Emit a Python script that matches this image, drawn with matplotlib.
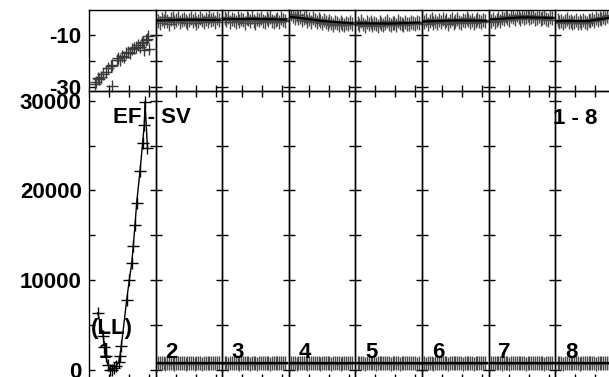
import matplotlib
matplotlib.use("Agg")
import matplotlib.pyplot as plt

plt.rcParams['font.family'] = ['Liberation Sans', 'DejaVu Sans']

# ---------------- data ----------------
panel_labels = ["1", "2", "3", "4", "5", "6", "7", "8"]
title_left = "EF - SV"
title_right = "1 - 8"
panel1_note = "(LL)"

top_ticks = [-30, -20, -10]
top_ticklabels = ["-30", "", "-10"]
bottom_ticks = [0, 5000, 10000, 15000, 20000, 25000, 30000]
bottom_ticklabels = ["0", "", "10000", "", "20000", "", "30000"]
x_ticks = [3, 6, 9]

# panel 1, top row (scatter only)
p1_top_x = [0.9, 1.0, 1.3, 1.5, 1.8, 2.1, 2.5, 2.9, 3.3, 3.4, 3.5, 4.2, 4.4, 4.6, 5.0, 5.3,
            5.6, 5.9, 6.1, 6.4, 6.7, 7.0, 7.3, 7.6, 7.9, 8.1, 8.3, 8.5, 8.7, 8.9, 9.0]
p1_top_y = [-28.8, -28.2, -26.6, -27.0, -26.3, -25.0, -24.2, -22.6, -22.0, -29.6, -21.5, -19.8,
            -19.0, -19.5, -18.2, -18.6, -17.0, -16.5, -16.9, -15.4, -15.0, -14.6, -14.0, -14.5,
            -13.2, -12.8, -15.8, -12.0, -11.6, -10.4, -15.2]

# panel 1, bottom row (points joined by a line)
p1_bot_x = [1.31, 2.15, 2.30, 2.51, 2.85, 3.15, 3.45, 3.75, 4.05, 4.45, 4.65, 4.85, 5.66,
            6.05, 6.41, 6.65, 6.91, 7.16, 7.66, 8.05, 8.30, 8.41, 8.78]
p1_bot_y = [6350, 3740, 2550, 1510, 500, -60, -80, 150, 350, 800, 1500, 2600, 7770,
            10000, 11870, 13800, 16150, 18640, 22180, 25280, 27320, 29920, 24750]

# panels 2-8: observation positions shared by the panels
obs_x = [0.35, 0.6, 0.9, 1.2, 1.45, 1.7, 2.0, 2.3, 2.55, 2.8, 3.1, 3.4, 3.65, 3.9, 4.2, 4.5,
         4.75, 5.0, 5.3, 5.6, 5.85, 6.1, 6.4, 6.7, 6.95, 7.2, 7.5, 7.8, 8.05, 8.3, 8.6, 8.9,
         9.2, 9.5]

top_p2 = [-4.6, -5.2, -3.9, -4.8, -3.2, -4.5, -5.6, -4.0, -3.6, -4.9, -4.2, -3.4, -5.0, -4.4, -3.8, -4.7, -5.3,
          -4.1, -3.5, -4.6, -4.0, -5.4, -4.8, -3.3, -4.3, -5.1, -3.9, -4.6, -3.1, -4.4, -3.7, -4.9, -3.6, -4.1]
top_p3 = [-3.6, -4.4, -3.2, -4.9, -3.9, -4.2, -5.0, -3.5, -4.6, -3.8, -4.3, -5.2, -3.4, -4.0, -4.7, -3.1, -4.5,
          -5.3, -3.7, -4.1, -3.3, -4.8, -5.1, -3.6, -4.2, -3.0, -4.6, -5.0, -4.4, -3.8, -4.9, -3.5, -4.2, -4.7]
top_p4 = [-2.0, -2.8, -3.3, -2.4, -3.6, -2.9, -4.2, -3.4, -3.0, -4.5, -3.8, -4.9, -3.6, -4.3, -5.1, -4.0, -4.6,
          -5.4, -4.4, -5.0, -5.8, -4.7, -5.3, -6.2, -5.0, -5.5, -6.0, -4.9, -5.6, -6.3, -5.2, -5.7, -5.0, -5.9]
top_p5 = [-5.5, -6.2, -4.8, -5.7, -6.4, -5.1, -5.9, -4.9, -6.3, -5.4, -5.8, -6.5, -5.0, -5.6, -6.1, -5.3, -4.7,
          -5.9, -6.2, -5.2, -5.5, -6.0, -4.8, -5.4, -5.7, -6.3, -5.0, -5.6, -5.8, -4.9, -5.3, -5.7, -5.1, -5.5]
top_p6 = [-5.0, -4.3, -5.6, -4.8, -3.9, -5.2, -4.6, -5.4, -4.1, -4.9, -3.8, -5.1, -4.4, -5.7, -4.7, -4.0, -5.3,
          -4.5, -3.7, -4.9, -5.5, -4.2, -4.8, -3.6, -4.4, -5.0, -4.1, -5.3, -4.6, -3.9, -4.7, -5.1, -4.3, -4.8]
top_p7 = [-4.5, -3.8, -5.0, -4.2, -3.5, -4.7, -3.3, -4.0, -2.8, -3.6, -4.3, -2.6, -3.2, -3.9, -2.4, -3.0, -3.7,
          -2.5, -3.4, -2.9, -2.2, -3.5, -3.1, -2.7, -3.8, -3.3, -2.6, -4.0, -3.4, -2.9, -3.7, -4.2, -3.2, -3.6]
top_p8 = [-4.2, -5.0, -4.5, -5.3, -4.8, -4.0, -5.1, -4.6, -5.4, -4.9, -4.3, -5.2, -4.7, -5.5, -4.4, -4.9, -5.3,
          -4.1, -4.8, -3.9, -4.5, -3.6, -4.2, -3.3, -3.9, -2.9, -3.5, -2.6, -3.2, -2.4, -3.0, -2.7, -2.2, -2.9]

trend_x = [0.3, 5.0, 9.6]
trend_p2 = [-4.4, -4.1, -4.3]
trend_p3 = [-3.9, -3.8, -4.1]
trend_p4 = [-3.0, -4.6, -5.5]
trend_p5 = [-5.5, -5.6, -5.2]
trend_p6 = [-4.8, -4.4, -4.5]
trend_p7 = [-4.0, -3.2, -3.4]
trend_p8 = [-4.6, -4.6, -2.8]

bot_p2 = [720, 680, 760, 700, 650, 740, 690, 770, 710, 660, 730, 700, 750, 680, 720, 640, 710,
          760, 690, 730, 670, 740, 700, 720, 660, 750, 710, 690, 740, 680, 720, 700, 760, 690]
bot_p3 = [700, 740, 660, 720, 690, 760, 680, 710, 650, 730, 700, 680, 750, 710, 670, 740, 690,
          720, 660, 700, 750, 680, 730, 690, 710, 660, 740, 700, 720, 680, 760, 690, 710, 700]
bot_p4 = [740, 690, 720, 660, 750, 700, 680, 730, 710, 650, 760, 690, 720, 700, 680, 740, 660,
          710, 730, 690, 700, 750, 670, 720, 690, 740, 700, 660, 730, 710, 680, 750, 700, 720]
bot_p5 = [690, 730, 700, 760, 670, 710, 740, 680, 720, 700, 650, 730, 690, 760, 710, 680, 740,
          700, 670, 720, 750, 690, 710, 660, 740, 700, 730, 680, 710, 750, 690, 720, 670, 700]
bot_p6 = [710, 670, 740, 700, 720, 660, 750, 690, 730, 700, 680, 760, 710, 650, 720, 740, 690,
          700, 730, 680, 710, 660, 750, 700, 720, 690, 740, 670, 700, 730, 690, 710, 750, 680]
bot_p7 = [680, 720, 700, 750, 690, 730, 660, 710, 740, 700, 670, 720, 760, 690, 700, 730, 680,
          750, 710, 660, 720, 700, 740, 690, 730, 680, 710, 750, 700, 670, 720, 740, 690, 710]
bot_p8 = [730, 690, 710, 660, 740, 700, 720, 680, 750, 710, 690, 730, 670, 700, 760, 720, 680,
          710, 740, 690, 700, 650, 730, 710, 690, 750, 700, 720, 680, 740, 710, 690, 730, 700]

top_series = [top_p2, top_p3, top_p4, top_p5, top_p6, top_p7, top_p8]
trend_series = [trend_p2, trend_p3, trend_p4, trend_p5, trend_p6, trend_p7, trend_p8]
bot_series = [bot_p2, bot_p3, bot_p4, bot_p5, bot_p6, bot_p7, bot_p8]

# ---------------- layout ----------------
W, H = 609, 377
fig = plt.figure(figsize=(W / 100, H / 100), dpi=100)

x0_px = 89.0
pw_px = 66.6
top_y0, top_y1 = 10.0, 91.0
bot_y0, bot_y1 = 91.0, 380.0

top_ylim = (-31.54, -0.38)
bot_ylim = (-1173, 31117)
xlim = (0, 10)

FS = 16
tick_kw = dict(direction='in', length=4.5, width=1.0, color='black')


def style_text(lbls):
    for t in lbls:
        t.set_fontsize(FS)
        t.set_fontweight('bold')


for i in range(8):
    left = (x0_px + i * pw_px) / W
    width = pw_px / W
    ax_t = fig.add_axes([left, (H - top_y1) / H, width, (top_y1 - top_y0) / H])
    ax_b = fig.add_axes([left, (H - bot_y1) / H, width, (bot_y1 - bot_y0) / H])

    for ax in (ax_t, ax_b):
        ax.set_xlim(*xlim)
        for s in ax.spines.values():
            s.set_linewidth(1.0)
            s.set_color('black')
        ax.patch.set_alpha(0)

    ax_t.set_ylim(*top_ylim)
    ax_b.set_ylim(*bot_ylim)

    # top row ticks
    ax_t.set_yticks(top_ticks)
    ax_t.set_xticks(x_ticks)
    ax_t.tick_params(axis='y', left=True, right=True, labelleft=(i == 0), pad=5.3, **tick_kw)
    ax_t.tick_params(axis='x', bottom=True, top=False, labelbottom=False, **tick_kw)
    # bottom row ticks
    ax_b.set_yticks(bottom_ticks)
    ax_b.set_xticks(x_ticks)
    ax_b.tick_params(axis='y', left=True, right=True, labelleft=(i == 0), pad=5.3, **tick_kw)
    ax_b.tick_params(axis='x', bottom=True, top=True, labelbottom=False, **tick_kw)
    if i == 0:
        ax_t.set_yticklabels(top_ticklabels)
        ax_b.set_yticklabels(bottom_ticklabels)
        style_text(ax_t.get_yticklabels())
        style_text(ax_b.get_yticklabels())

    if i == 0:
        ax_t.plot(p1_top_x, p1_top_y, linestyle='none', marker='+', ms=9, mew=1.0,
                  color='#3a3a3a', clip_on=False)
        ax_b.plot(p1_bot_x, p1_bot_y, linestyle='-', lw=1.0, color='black',
                  marker='+', ms=8, mew=1.0, clip_on=False)
    else:
        k = i - 1
        ax_t.plot(obs_x, top_series[k], linestyle='none', marker='+', ms=10, mew=1.0,
                  color='#4a4a4a')
        ax_t.plot(trend_x, trend_series[k], '-', lw=1.6, color='black')
        ax_b.plot(obs_x, bot_series[k], linestyle='none', marker='+', ms=9.5, mew=1.0,
                  color='#4a4a4a')
        ax_b.plot([obs_x[0] - 0.3, obs_x[-1] + 0.3], [sum(bot_series[k]) / len(bot_series[k])] * 2,
                  '-', lw=1.6, color='black')

    # panel number label
    ax_b.text(1.45, 1340, panel_labels[i], fontsize=FS, fontweight='bold',
              ha='left', va='baseline')
    if i == 0:
        ax_b.text(0.35, 3960, panel1_note, fontsize=FS, fontweight='bold',
                  ha='left', va='baseline')

# titles in pixel positions of the picture
fig.text(113 / W, (H - 123) / H, title_left, fontsize=FS, fontweight='bold',
         ha='left', va='baseline')
fig.text(553 / W, (H - 124) / H, title_right, fontsize=FS, fontweight='bold',
         ha='left', va='baseline')

fig.savefig("out.png", dpi=100)
